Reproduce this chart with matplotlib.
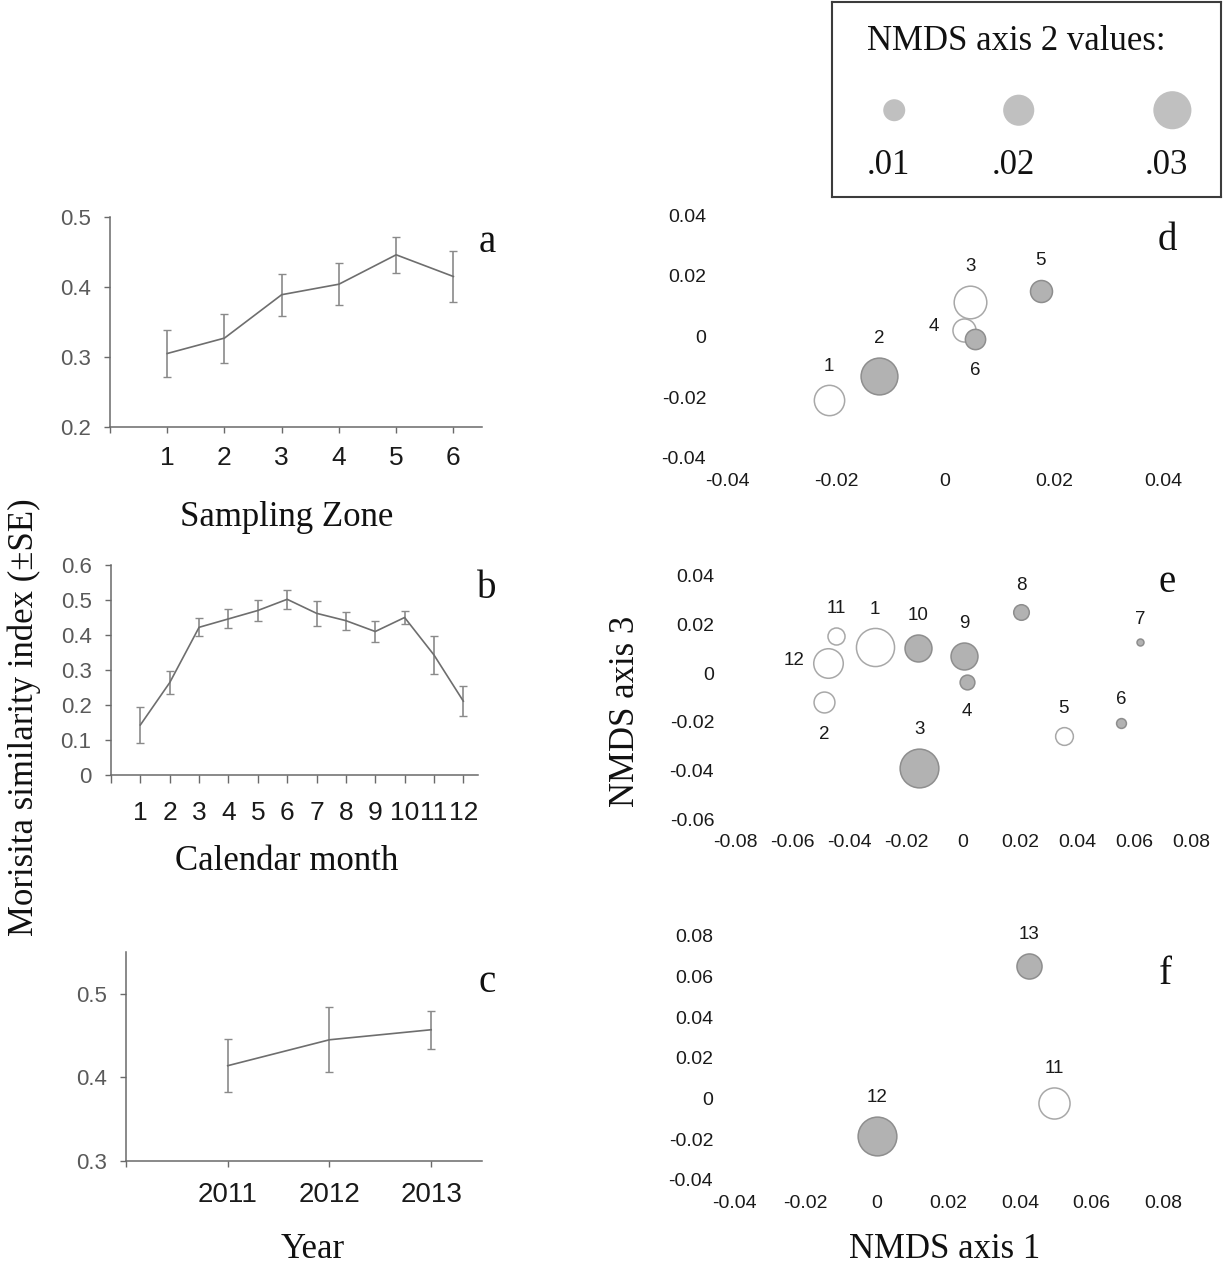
import numpy as np
import matplotlib
matplotlib.use("Agg")
import matplotlib.pyplot as plt

plt.rcParams['font.family'] = ['Liberation Sans', 'DejaVu Sans']
plt.rcParams['axes.unicode_minus'] = False

W, H = 1225, 1270
SERIF = ['Liberation Serif', 'DejaVu Serif']

# Morisita similarity by sampling zone
zones = [1, 2, 3, 4, 5, 6]
zone_mean = [0.305, 0.327, 0.389, 0.404, 0.446, 0.415]
zone_se = [0.033, 0.035, 0.030, 0.030, 0.026, 0.037]

# by calendar month
months = list(range(1, 13))
month_mean = [0.143, 0.264, 0.422, 0.446, 0.470, 0.502, 0.462, 0.441, 0.410, 0.450, 0.343, 0.211]
month_se = [0.052, 0.032, 0.026, 0.027, 0.030, 0.028, 0.035, 0.026, 0.030, 0.018, 0.054, 0.043]

# by year
years = [2011, 2012, 2013]
year_mean = [0.414, 0.445, 0.457]
year_se = [0.032, 0.039, 0.023]

# NMDS scores; axis 2 gives bubble size, negative values drawn open
d_ids = [1, 2, 3, 4, 5, 6]
d_ax1 = [-0.0213, -0.0121, 0.0046, 0.0035, 0.0176, 0.0055]
d_ax3 = [-0.0210, -0.0131, 0.0115, 0.0023, 0.0151, -0.0007]
d_ax2 = [-0.019, 0.028, -0.022, -0.011, 0.010, 0.0085]
d_pos = ['above', 'above', 'above', 'left', 'above', 'below']

e_ids = list(range(1, 13))
e_ax1 = [-0.0309, -0.0488, -0.0154, 0.0014, 0.0354, 0.0554, 0.0621, 0.0204, 0.0004, -0.0158, -0.0446, -0.0474]
e_ax3 = [0.0107, -0.0119, -0.0391, -0.0037, -0.0259, -0.0206, 0.0128, 0.0251, 0.0070, 0.0103, 0.0152, 0.0041]
e_ax2 = [-0.030, -0.009, 0.031, 0.0045, -0.0065, 0.002, 0.001, 0.005, 0.015, 0.015, -0.006, -0.018]
e_pos = ['above', 'below', 'above', 'below', 'above', 'above', 'above', 'above', 'above', 'above', 'above', 'left']

f_ids = [11, 12, 13]
f_ax1 = [0.0495, 0.0, 0.0425]
f_ax3 = [-0.0020, -0.0182, 0.0654]
f_ax2 = [-0.020, 0.031, 0.013]
f_pos = ['above', 'above', 'above']

legend_vals = [0.01, 0.02, 0.03]

fig = plt.figure(figsize=(W / 100, H / 100), dpi=100)


def px_axes(left, top, right, bottom):
    return fig.add_axes([left / W, 1 - bottom / H, (right - left) / W, (bottom - top) / H])


def bubble_diam(v):
    # diameter in pixels, area proportional to |value|
    return 22 * np.sqrt(np.abs(np.asarray(v)) / 0.01)


def line_panel(ax, x, m, se, xlim, ylim, yticks, ylabels, xticks, xlabels, xfs, xlen, xpad):
    ax.errorbar(x, m, yerr=se, color='#6e6e6e', lw=1.2, ecolor='#8a8a8a',
                elinewidth=1.2, capsize=3, capthick=1.0)
    ax.set_xlim(*xlim)
    ax.set_ylim(*ylim)
    ax.set_yticks(yticks)
    ax.set_yticklabels(ylabels)
    ax.set_xticks(xticks)
    ax.set_xticklabels(xlabels)
    for s in ['top', 'right']:
        ax.spines[s].set_visible(False)
    for s in ['left', 'bottom']:
        ax.spines[s].set_color('#6a6a6a')
        ax.spines[s].set_linewidth(1.1)
    ax.tick_params(axis='y', length=4, width=1, color='#6a6a6a', labelsize=16,
                   labelcolor='#5a5a5a', pad=10)
    ax.tick_params(axis='x', length=xlen, width=1, color='#6a6a6a', labelsize=xfs,
                   labelcolor='#1a1a1a', pad=xpad)
    ax.patch.set_alpha(0)


ax_a = px_axes(110, 217, 482, 427)
line_panel(ax_a, zones, zone_mean, zone_se, (0, 6.5), (0.2, 0.5),
           [0.2, 0.3, 0.4, 0.5], ['0.2', '0.3', '0.4', '0.5'],
           range(0, 7), [''] + [str(z) for z in zones], 19, 4, 10)

ax_b = px_axes(111, 565, 478, 775)
line_panel(ax_b, months, month_mean, month_se, (0, 12.5), (0, 0.6),
           [0, 0.1, 0.2, 0.3, 0.4, 0.5, 0.6], ['0', '0.1', '0.2', '0.3', '0.4', '0.5', '0.6'],
           range(0, 13), [''] + [str(m) for m in months], 19, 6, 13)

ax_c = px_axes(126, 952, 482, 1161)
line_panel(ax_c, years, year_mean, year_se, (2010, 2013.5), (0.3, 0.55),
           [0.3, 0.4, 0.5], ['0.3', '0.4', '0.5'],
           [2010] + years, [''] + [str(y) for y in years], 20, 4, 11)


def fmt_tick(v):
    return '0' if abs(v) < 1e-9 else '%.2f' % v


def bubble_panel(ax, ids, ax1, ax3, ax2, pos, xticks, yticks):
    ax2 = np.asarray(ax2)
    diam = bubble_diam(ax2)
    face = np.where(ax2 > 0, '#b2b2b2', 'white')
    edge = np.where(ax2 > 0, '#8e8e8e', '#a8a8a8')
    for i in range(len(ids)):
        ax.scatter(ax1[i], ax3[i], s=(diam[i] * 0.72) ** 2, c=face[i],
                   edgecolors=edge[i], linewidths=1.1, zorder=3)
        r = diam[i] / 2
        if pos[i] == 'above':
            off = (0, (r + 19) * 0.72)
        elif pos[i] == 'below':
            off = (0, -(r + 22) * 0.72)
        else:
            off = (-(r + 19) * 0.72, 2)
        ax.annotate(str(ids[i]), (ax1[i], ax3[i]), xytext=off, textcoords='offset points',
                    ha='center', va='center', fontsize=13.5, color='#1a1a1a')
    ax.set_xlim(xticks[0], xticks[-1])
    ax.set_ylim(yticks[0], yticks[-1])
    ax.set_xticks(xticks)
    ax.set_xticklabels([fmt_tick(v) for v in xticks])
    ax.set_yticks(yticks)
    ax.set_yticklabels([fmt_tick(v) for v in yticks])
    for s in ax.spines.values():
        s.set_visible(False)
    ax.tick_params(axis='both', length=0, labelsize=14, labelcolor='#1a1a1a')
    ax.tick_params(axis='x', pad=11)
    ax.tick_params(axis='y', pad=15)
    ax.patch.set_alpha(0)


ax_d = px_axes(727, 215, 1163, 458)
bubble_panel(ax_d, d_ids, d_ax1, d_ax3, d_ax2, d_pos,
             [-0.04, -0.02, 0, 0.02, 0.04], [-0.04, -0.02, 0, 0.02, 0.04])

ax_e = px_axes(735, 576, 1191, 819)
bubble_panel(ax_e, e_ids, e_ax1, e_ax3, e_ax2, e_pos,
             [-0.08, -0.06, -0.04, -0.02, 0, 0.02, 0.04, 0.06, 0.08],
             [-0.06, -0.04, -0.02, 0, 0.02, 0.04])

ax_f = px_axes(734, 936, 1163, 1180)
bubble_panel(ax_f, f_ids, f_ax1, f_ax3, f_ax2, f_pos,
             [-0.04, -0.02, 0, 0.02, 0.04, 0.06, 0.08],
             [-0.04, -0.02, 0, 0.02, 0.04, 0.06, 0.08])

# bubble size key
ax_k = px_axes(832, 2, 1221, 197)
ax_k.set_xlim(0, 1)
ax_k.set_ylim(0, 1)
ax_k.set_xticks([])
ax_k.set_yticks([])
for s in ax_k.spines.values():
    s.set_color('#3c3c3c')
    s.set_linewidth(1.5)
key_x = [0.16, 0.48, 0.875]
for kx, v in zip(key_x, legend_vals):
    ax_k.scatter(kx, 0.445, s=(bubble_diam(v) * 0.72) ** 2, c='#c0c0c0', edgecolors='none')
    ax_k.text(kx - 0.015, 0.16, ('%.2f' % v)[1:], ha='center', va='center', fontsize=25,
              family=SERIF, color='#111111')
ax_k.text(0.475, 0.8, 'NMDS axis 2 values:', ha='center', va='center', fontsize=25,
          family=SERIF, color='#111111')


# axis titles and panel letters
def ftext(x, y, s, **kw):
    fig.text(x / W, 1 - y / H, s, ha='center', va='center', family=SERIF,
             color='#111111', **kw)


ftext(287, 517, 'Sampling Zone', fontsize=25)
ftext(287, 862, 'Calendar month', fontsize=25)
ftext(313, 1250, 'Year', fontsize=25)
ftext(945, 1250, 'NMDS axis 1', fontsize=25)
ftext(24, 717, 'Morisita similarity index (±SE)', fontsize=25, rotation=90)
ftext(625, 711, 'NMDS axis 3', fontsize=25, rotation=90)

for lx, ly, letter in [(487, 243, 'a'), (487, 588, 'b'), (487, 983, 'c'),
                       (1167, 240, 'd'), (1167, 583, 'e'), (1165, 975, 'f')]:
    ftext(lx, ly, letter, fontsize=28)

fig.savefig('out.png', dpi=100, facecolor='white')
